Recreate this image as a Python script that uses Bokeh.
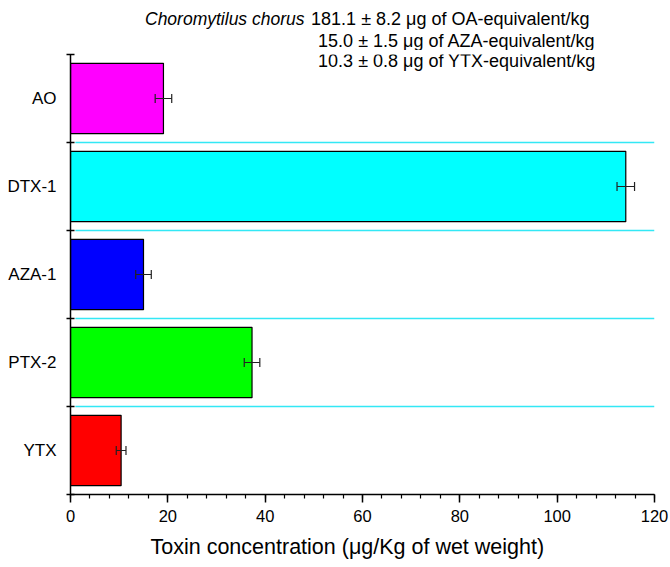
from bokeh.plotting import figure
from bokeh.layouts import column
from bokeh.models import FixedTicker, SingleIntervalTicker, Label, Whisker, ColumnDataSource, TeeHead, Range1d, Title
from bokeh.embed import file_html
from bokeh.resources import INLINE

toxins = ["AO", "DTX-1", "AZA-1", "PTX-2", "YTX"]
conc = [19.1, 114.1, 15.0, 37.3, 10.4]
err = [1.7, 1.8, 1.6, 1.6, 1.0]
colors = ["#FF00FF", "#00FFFF", "#0000FF", "#00FF00", "#FF0000"]
x_ticks_interval = 20
summary_species = "Choromytilus chorus"
summary_lines = [
    "181.1 \u00b1 8.2 \u03bcg of OA-equivalent/kg",
    "15.0 \u00b1 1.5 \u03bcg of AZA-equivalent/kg",
    "10.3 \u00b1 0.8 \u03bcg of YTX-equivalent/kg",
]
x_label = "Toxin concentration (\u03bcg/Kg of wet weight)"

font = "Liberation Sans"
n = len(toxins)
ypos = [n - i - 0.5 for i in range(n)]
bounds = list(range(0, n + 1))

HEADER_H = 50

# ---- header with the summary text ----
ph = figure(width=670, height=HEADER_H, output_backend="svg", toolbar_location=None,
            x_range=Range1d(0, 1), y_range=Range1d(0, 1),
            x_axis_location=None, y_axis_location=None, min_border=0)
ph.outline_line_color = None
ph.grid.visible = False
header_rows = [18, 40]
header_right = [589, 595]
for line, yy, xr in zip(summary_lines[:2], header_rows, header_right):
    ph.add_layout(Label(x=xr, y=yy, x_units="canvas", y_units="canvas", text=line,
                        text_align="right", text_baseline="middle", text_font=font,
                        text_font_size="18px", text_color="black"))
ph.add_layout(Label(x=304, y=header_rows[0], x_units="canvas", y_units="canvas",
                    text=summary_species, text_align="right", text_baseline="middle",
                    text_font=font, text_font_size="17.5px", text_font_style="italic",
                    text_color="black"))

# ---- main chart ----
src = ColumnDataSource(dict(y=ypos, x=conc, c=colors,
                            lo=[c - e for c, e in zip(conc, err)],
                            hi=[c + e for c, e in zip(conc, err)]))

p = figure(width=670, height=567 - HEADER_H, output_backend="svg", toolbar_location=None,
           x_range=Range1d(0, 120), y_range=Range1d(0, n),
           min_border_left=70, min_border_right=16, min_border_top=54 - HEADER_H,
           min_border_bottom=73)
p.outline_line_color = None
p.xgrid.visible = False
p.ygrid.visible = False

p.segment(x0=[1] * (n - 1), x1=[120] * (n - 1), y0=bounds[1:-1], y1=bounds[1:-1],
          line_color="#33E8F5", line_width=1.5)

p.hbar(y="y", right="x", left=0, height=0.8, fill_color="c", line_color="black",
       line_width=1.2, source=src)

w = Whisker(base="y", lower="lo", upper="hi", dimension="width", source=src,
            line_color="#222222", line_width=1.2, level="overlay",
            upper_head=TeeHead(size=9, line_color="#222222", line_width=1.2),
            lower_head=TeeHead(size=9, line_color="#222222", line_width=1.2))
p.add_layout(w)

xa = p.xaxis[0]
xa.ticker = SingleIntervalTicker(interval=x_ticks_interval, num_minor_ticks=5)
xa.axis_line_width = 1.5
xa.major_tick_in = 0
xa.major_tick_out = 8
xa.minor_tick_in = 0
xa.minor_tick_out = 4
xa.major_tick_line_width = 1.5
xa.minor_tick_line_width = 1.2
xa.major_label_text_font = font
xa.major_label_text_font_size = "16.5px"
xa.major_label_text_color = "black"
xa.major_label_standoff = 7

ya = p.yaxis[0]
ya.ticker = FixedTicker(ticks=ypos, minor_ticks=bounds)
ya.major_label_overrides = {float(y): t for y, t in zip(ypos, toxins)}
ya.axis_line_width = 1.5
ya.major_tick_in = 0
ya.major_tick_out = 0
ya.minor_tick_in = 4
ya.minor_tick_out = 4
ya.minor_tick_line_width = 1.5
ya.major_label_text_font = font
ya.major_label_text_font_size = "17px"
ya.major_label_text_color = "black"
ya.major_label_standoff = 10

p.add_layout(Title(text=x_label, align="left", offset=80, standoff=16, text_font=font,
                   text_font_size="21.5px", text_font_style="normal", text_color="black"),
             "below")

p.add_layout(Label(x=595, y=60 - HEADER_H, x_units="canvas", y_units="canvas",
                   text=summary_lines[2], text_align="right", text_baseline="middle",
                   text_font=font, text_font_size="18px", text_color="black"))

open("out.html", "w").write(file_html(column(ph, p, spacing=0), INLINE))
